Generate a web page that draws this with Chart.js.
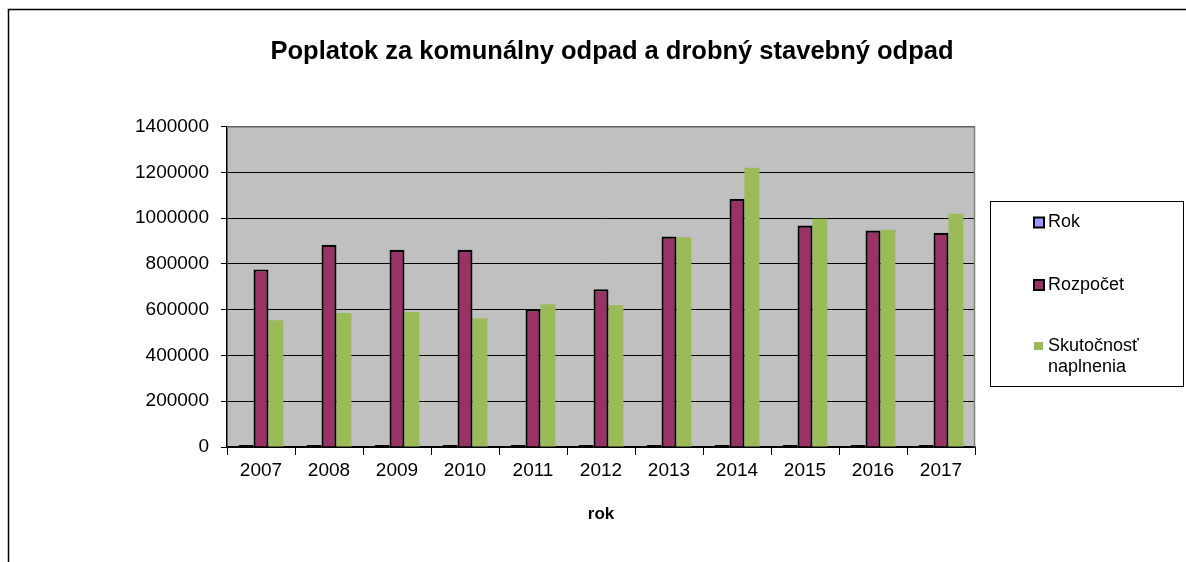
<!DOCTYPE html>
<html>
<head>
<meta charset="utf-8">
<script src="https://cdn.jsdelivr.net/npm/chart.js@4.4.1/dist/chart.umd.min.js"></script>
<style>
  html, body { margin: 0; padding: 0; background: #fff; }
  #wrap { width: 1186px; height: 562px; position: relative; }
</style>
</head>
<body>
<div id="wrap"><canvas id="c"></canvas></div>
<script>
const categories = ['2007','2008','2009','2010','2011','2012','2013','2014','2015','2016','2017'];
const rokValues = [2007, 2008, 2009, 2010, 2011, 2012, 2013, 2014, 2015, 2016, 2017];
const rozpocetValues = [776000, 884000, 862000, 862000, 602000, 689000, 920000, 1084000, 968000, 946000, 936000];
const skutocnostValues = [554000, 585000, 590000, 563000, 624000, 619000, 917000, 1220000, 997000, 949000, 1019000];
const seriesLabels = ['Rok', 'Rozpočet', ['Skutočnosť', 'naplnenia']];
const titleText = 'Poplatok za komunálny odpad a drobný stavebný odpad';
const xTitleText = 'rok';
const yTicks = [0, 200000, 400000, 600000, 800000, 1000000, 1200000, 1400000];

const FONT = "'Liberation Sans', Arial, sans-serif";

const decorPlugin = {
  id: 'decor',
  beforeDraw(chart) {
    const {ctx, chartArea: a} = chart;
    ctx.save();
    ctx.fillStyle = '#fff';
    ctx.fillRect(0, 0, chart.width, chart.height);
    // outer frame
    ctx.strokeStyle = '#000';
    ctx.lineWidth = 1.5;
    ctx.beginPath();
    ctx.moveTo(8.5, chart.height + 2);
    ctx.lineTo(8.5, 9.5);
    ctx.lineTo(chart.width + 2, 9.5);
    ctx.stroke();
    // plot background
    ctx.fillStyle = '#C0C0C0';
    ctx.fillRect(a.left, a.top, a.right - a.left, a.bottom - a.top);
    ctx.restore();
  },
  afterDatasetsDraw(chart) {
    const {ctx, chartArea: a} = chart;
    ctx.save();
    ctx.strokeStyle = '#808080';
    ctx.lineWidth = 1.5;
    ctx.beginPath();
    ctx.moveTo(a.left, a.top + 0.5);
    ctx.lineTo(a.right - 0.5, a.top + 0.5);
    ctx.lineTo(a.right - 0.5, a.bottom);
    ctx.stroke();
    ctx.restore();
  },
  afterDraw(chart) {
    const {ctx} = chart;
    ctx.save();
    // legend box
    ctx.strokeStyle = '#000';
    ctx.lineWidth = 1;
    ctx.strokeRect(990.5, 201.5, 193, 185);
    ctx.font = '18px ' + FONT;
    ctx.textBaseline = 'middle';
    ctx.textAlign = 'left';
    ctx.fillStyle = '#000';
    const rows = [222.5, 285, 346];
    chart.data.datasets.forEach((ds, i) => {
      const y = rows[i];
      if (ds.borderWidth > 0) {
        ctx.fillStyle = ds.backgroundColor;
        ctx.fillRect(1034, y - 5, 10, 10);
        ctx.strokeStyle = '#000';
        ctx.lineWidth = 2;
        ctx.strokeRect(1034, y - 5, 10, 10);
      } else {
        ctx.fillStyle = ds.backgroundColor;
        ctx.fillRect(1034, y - 4, 9, 8);
      }
      ctx.fillStyle = '#000';
      const lbl = seriesLabels[i];
      const lines = Array.isArray(lbl) ? lbl : [lbl];
      lines.forEach((t, j) => ctx.fillText(t, 1048, y + j * 21));
    });
    ctx.restore();
  }
};

new Chart(document.getElementById('c'), {
  type: 'bar',
  data: {
    labels: categories,
    datasets: [
      { label: 'Rok', data: rokValues, backgroundColor: '#9999FF', borderColor: '#000', borderWidth: 2, minBarLength: 2, borderSkipped: false },
      { label: 'Rozpočet', data: rozpocetValues, backgroundColor: '#993366', borderColor: '#000', borderWidth: 2.2 },
      { label: 'Skutočnosť naplnenia', data: skutocnostValues, backgroundColor: '#9BBB59', borderWidth: 0 }
    ]
  },
  options: {
    responsive: true,
    maintainAspectRatio: false,
    animation: false,
    layout: { padding: { left: 38, right: 0, top: 0, bottom: 0 } },
    datasets: { bar: { categoryPercentage: 0.66, barPercentage: 1.0 } },
    plugins: {
      legend: { display: false },
      tooltip: { enabled: false },
      title: {
        display: true,
        text: titleText,
        color: '#000',
        font: { family: FONT, size: 25.5, weight: 'bold' },
        padding: { top: 37, bottom: 59 }
      }
    },
    scales: {
      x: {
        afterFit(s) { s.height = 115; },
        grid: { drawOnChartArea: false, drawTicks: true, tickLength: 8, tickColor: '#000', offset: true },
        border: { color: '#000', width: 1.5 },
        ticks: { color: '#000', font: { family: FONT, size: 19 }, padding: 4 },
        title: { display: true, text: xTitleText, color: '#000', font: { family: FONT, size: 17, weight: 'bold' }, padding: { top: 0, bottom: 37 } }
      },
      y: {
        min: 0,
        max: 1400000,
        afterFit(s) { s.width = 189; },
        afterBuildTicks(s) { s.ticks = yTicks.map(v => ({ value: v })); },
        grid: { color: '#000', lineWidth: 1, tickLength: 6, tickColor: '#000' },
        border: { color: '#000', width: 1.5 },
        ticks: { color: '#000', font: { family: FONT, size: 19 }, padding: 12, callback: v => String(v) }
      },
      yRight: {
        position: 'right',
        display: true,
        min: 0,
        max: 1400000,
        afterFit(s) { s.width = 211; },
        grid: { drawOnChartArea: false, drawTicks: false },
        border: { display: false },
        ticks: { display: false }
      }
    }
  },
  plugins: [decorPlugin]
});
</script>
</body>
</html>
